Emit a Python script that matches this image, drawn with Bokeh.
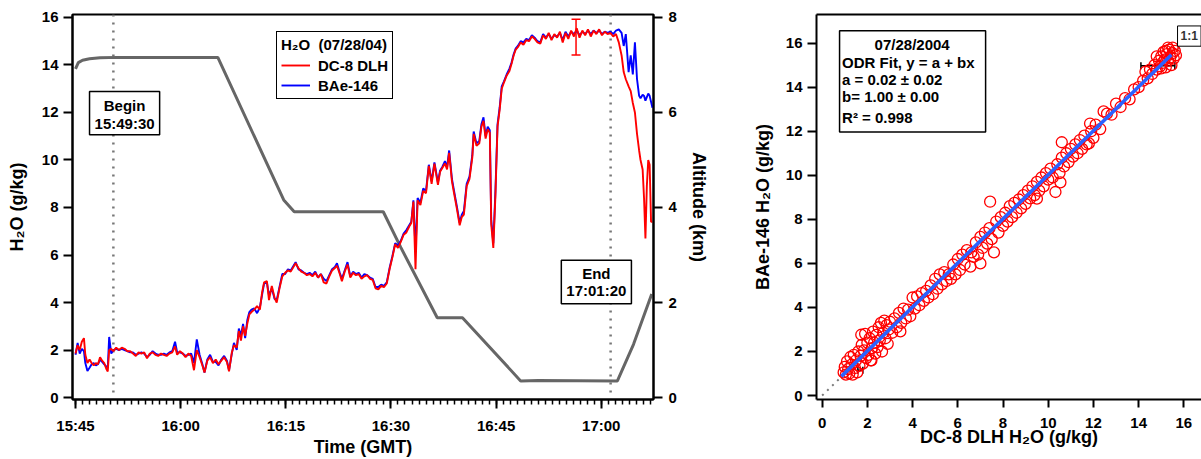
import pandas as pd
from bokeh.plotting import figure
from bokeh.layouts import row
from bokeh.models import (Range1d, LinearAxis, FixedTicker, DatetimeTickFormatter, Span,
                          BoxAnnotation, Label, Legend, LegendItem, Whisker, ColumnDataSource, TeeHead)
from bokeh.embed import file_html
from bokeh.resources import INLINE

FONT = "Liberation Sans"

# ---------------- data ----------------
FLIGHT_DATE = "2004-07-28"
START = "15:45:00"

# minutes after 15:45 GMT
minutes = [0.0, 0.3, 0.6, 0.9, 1.2, 1.4, 1.7, 2.0, 2.3, 2.6,
           2.9, 3.2, 3.5, 3.8, 4.1, 4.4, 4.6, 4.8, 5.1, 5.4,
           5.8, 6.2, 6.6, 7.0, 7.4, 7.8, 8.2, 8.6, 9.0, 9.4,
           9.8, 10.2, 10.6, 11.0, 11.4, 11.8, 12.2, 12.6, 13.0, 13.4,
           13.8, 14.2, 14.5, 14.9, 15.3, 15.7, 16.1, 16.5, 16.9, 17.3,
           17.7, 18.1, 18.4, 18.8, 19.2, 19.6, 20.0, 20.4, 20.8, 21.2,
           21.6, 21.9, 22.3, 22.6, 23.0, 23.3, 23.6, 23.9, 24.2, 24.5,
           24.8, 25.1, 25.5, 25.9, 26.3, 26.6, 26.9, 27.3, 27.6, 28.0,
           28.4, 28.7, 29.1, 29.5, 29.9, 30.3, 30.7, 31.1, 31.4, 31.8,
           32.2, 32.6, 33.0, 33.4, 33.8, 34.2, 34.6, 35.0, 35.4, 35.8,
           36.2, 36.6, 37.0, 37.3, 37.7, 38.0, 38.4, 38.8, 39.2, 39.6,
           40.0, 40.4, 40.8, 41.2, 41.6, 42.0, 42.4, 42.8, 43.2, 43.6,
           44.0, 44.4, 44.8, 45.2, 45.6, 46.0, 46.4, 46.8, 47.2, 47.6,
           47.9, 48.2, 48.5, 48.8, 49.2, 49.6, 50.0, 50.4, 50.8, 51.2,
           51.7, 52.0, 52.3, 52.7, 53.0, 53.3, 53.7, 54.0, 54.4, 54.8,
           55.1, 55.4, 55.8, 56.2, 56.6, 56.8, 57.2, 57.6, 57.9, 58.2,
           58.5, 58.8, 59.1, 59.3, 59.6, 59.9, 60.2, 60.5, 60.8, 61.1,
           61.5, 61.9, 62.2, 62.5, 62.8, 63.1, 63.5, 63.9, 64.3, 64.7,
           65.1, 65.5, 65.9, 66.3, 66.7, 67.1, 67.5, 67.9, 68.3, 68.7,
           69.1, 69.5, 69.9, 70.3, 70.7, 71.1, 71.5, 71.9, 72.3, 72.7,
           73.1, 73.5, 73.9, 74.3, 74.7, 75.1, 75.5, 75.9, 76.3, 76.7,
           77.1, 77.5, 77.9, 78.2, 78.5, 78.9, 79.2, 79.5, 79.8, 80.1,
           80.4, 80.6, 80.9, 81.1, 81.3, 81.5, 81.7, 81.9, 82.1, 82.3]

dc8_h2o = [1.85, 2.20, 2.00, 2.35, 2.50, 1.80, 1.45, 1.60, 1.45, 1.35,
           1.45, 1.40, 1.70, 1.55, 1.45, 1.20, 1.10, 2.00, 2.05, 1.95,
           2.10, 2.00, 2.10, 2.05, 1.95, 1.95, 1.85, 1.75, 1.90, 1.85,
           1.90, 1.65, 1.85, 1.90, 1.80, 1.75, 1.85, 1.80, 1.75, 1.85,
           1.90, 2.15, 1.80, 1.95, 1.85, 1.70, 1.85, 1.75, 1.15, 2.00,
           1.70, 1.35, 1.05, 1.55, 1.70, 1.45, 1.60, 1.40, 1.55, 1.70,
           1.50, 1.10, 1.90, 2.20, 2.10, 2.80, 2.40, 3.00, 2.60, 3.10,
           3.50, 3.60, 3.70, 3.85, 3.70, 4.40, 4.85, 4.90, 4.10, 4.70,
           4.20, 4.00, 4.60, 5.10, 5.25, 5.35, 5.30, 5.50, 5.65, 5.45,
           5.30, 5.25, 5.15, 5.20, 5.10, 5.25, 5.05, 5.20, 4.85, 4.80,
           5.10, 5.35, 5.45, 5.55, 5.20, 4.90, 5.30, 5.60, 5.05, 5.25,
           5.15, 5.20, 5.00, 5.10, 5.15, 5.00, 4.95, 4.60, 4.55, 4.70,
           4.65, 4.80, 5.40, 5.90, 6.45, 6.30, 6.55, 6.85, 6.95, 7.20,
           7.35, 8.25, 5.40, 8.30, 8.10, 8.70, 8.60, 9.75, 9.00, 9.85,
           8.95, 9.50, 9.65, 9.85, 9.60, 10.30, 9.10, 8.60, 7.95, 7.25,
           7.60, 7.70, 8.90, 9.20, 10.10, 11.10, 10.60, 10.70, 11.40, 11.65,
           10.90, 11.30, 11.15, 7.30, 6.30, 8.50, 11.40, 12.10, 13.00, 13.25,
           13.55, 13.75, 14.05, 14.40, 14.65, 14.75, 14.95, 14.85, 15.05, 15.00,
           15.20, 15.10, 14.95, 14.90, 15.25, 15.10, 15.35, 15.05, 15.30, 15.15,
           15.40, 14.95, 15.35, 15.10, 15.45, 15.20, 15.55, 15.15, 15.45, 15.25,
           15.50, 15.20, 15.45, 15.30, 15.50, 15.25, 15.40, 15.30, 15.35, 15.20,
           15.30, 14.95, 14.40, 13.70, 13.40, 13.10, 12.90, 12.40, 12.00, 11.10,
           10.40, 10.00, 9.60, 8.40, 6.70, 8.90, 10.00, 9.80, 7.40, 7.40]

bae_h2o = [1.80, 2.30, 1.85, 2.05, 1.95, 1.45, 1.12, 1.25, 1.40, 1.45,
           1.35, 1.40, 1.60, 1.50, 1.40, 1.30, 1.25, 2.55, 1.85, 2.00,
           2.05, 2.00, 2.05, 2.00, 1.95, 1.90, 1.90, 1.80, 1.85, 1.90,
           1.85, 1.70, 1.80, 1.95, 1.85, 1.80, 1.80, 1.85, 1.80, 1.90,
           1.95, 2.35, 1.90, 1.90, 1.85, 1.75, 1.80, 1.85, 1.45, 2.45,
           1.80, 1.40, 1.05, 1.60, 1.80, 1.50, 1.50, 1.35, 1.60, 1.75,
           1.55, 1.15, 1.85, 2.30, 2.00, 2.90, 2.60, 3.10, 2.50, 3.25,
           3.60, 3.70, 3.75, 3.55, 3.80, 4.30, 4.80, 4.85, 4.30, 4.60,
           4.15, 4.10, 4.65, 5.20, 5.20, 5.40, 5.35, 5.55, 5.70, 5.40,
           5.35, 5.25, 5.20, 5.25, 5.15, 5.30, 5.05, 5.20, 5.00, 4.90,
           5.15, 5.40, 5.50, 5.65, 5.25, 5.00, 5.35, 5.70, 5.10, 5.30,
           5.20, 5.25, 5.05, 5.20, 5.15, 5.05, 5.00, 4.65, 4.65, 4.75,
           4.70, 4.85, 5.45, 5.95, 6.50, 6.40, 6.60, 6.90, 7.05, 7.25,
           7.40, 8.30, 6.20, 8.40, 8.20, 8.80, 8.70, 9.80, 9.10, 9.90,
           9.05, 9.55, 9.70, 9.95, 9.70, 10.40, 9.20, 8.70, 8.05, 7.35,
           7.70, 7.85, 9.00, 9.30, 10.20, 11.20, 10.70, 10.80, 11.50, 11.80,
           11.00, 11.40, 11.25, 7.50, 6.50, 8.70, 11.50, 12.20, 13.10, 13.30,
           13.60, 13.85, 14.10, 14.45, 14.70, 14.80, 15.00, 14.95, 15.10, 15.05,
           15.25, 15.15, 15.00, 14.95, 15.30, 15.15, 15.30, 15.10, 15.25, 15.20,
           15.35, 15.05, 15.40, 15.20, 15.40, 15.30, 15.45, 15.25, 15.40, 15.30,
           15.45, 15.30, 15.45, 15.35, 15.45, 15.30, 15.40, 15.35, 15.40, 15.30,
           15.45, 15.50, 15.35, 14.80, 15.30, 13.70, 14.40, 13.60, 14.95, 13.40,
           12.70, 12.60, 12.75, 12.70, 12.50, 12.65, 12.80, 12.70, 12.45, 12.20]

alt_minutes = [0.0, 0.4, 1.0, 2.0, 3.5, 6.0, 10.0, 15.0, 20.3, 29.7,
               31.2, 43.9, 46.4, 51.6, 55.2, 63.5, 66.0, 77.3, 79.6, 82.2]
alt_km = [6.92, 7.05, 7.10, 7.13, 7.15, 7.16, 7.16, 7.16, 7.16, 4.16,
          3.91, 3.91, 3.16, 1.68, 1.68, 0.35, 0.36, 0.35, 1.12, 2.18]

# scatter of paired values between Begin and End
scatter_dc8 = [0.95, 1.00, 1.05, 1.10, 1.15, 1.20, 1.25, 1.30, 1.35, 1.40,
               1.45, 1.50, 1.55, 1.60, 1.65, 1.70, 1.73, 1.75, 1.80, 1.85,
               1.90, 1.95, 2.00, 2.05, 2.10, 2.15, 2.18, 2.20, 2.25, 2.30,
               2.35, 2.40, 2.45, 2.50, 2.55, 2.60, 2.65, 2.70, 2.75, 2.80,
               2.85, 2.90, 2.95, 3.00, 3.10, 3.20, 3.30, 3.40, 3.46, 3.50,
               3.60, 3.70, 3.80, 3.90, 4.00, 4.10, 4.20, 4.30, 4.40, 4.50,
               4.60, 4.70, 4.80, 4.90, 5.00, 5.10, 5.20, 5.30, 5.40, 5.50,
               5.60, 5.70, 5.80, 5.90, 6.00, 6.10, 6.20, 6.30, 6.40, 6.56,
               6.60, 6.70, 6.80, 6.90, 7.00, 7.00, 7.10, 7.20, 7.30, 7.40,
               7.43, 7.50, 7.60, 7.70, 7.80, 7.90, 8.00, 8.10, 8.20, 8.30,
               8.40, 8.50, 8.60, 8.70, 8.80, 8.90, 9.00, 9.10, 9.20, 9.30,
               9.40, 9.50, 9.50, 9.60, 9.70, 9.80, 9.90, 10.00, 10.10, 10.20,
               10.32, 10.40, 10.50, 10.54, 10.60, 10.60, 10.70, 10.80, 10.90, 11.00,
               11.10, 11.20, 11.30, 11.40, 11.50, 11.60, 11.70, 11.80, 11.85, 11.90,
               12.00, 12.10, 12.30, 12.45, 12.60, 12.80, 13.00, 13.20, 13.40, 13.60,
               13.80, 14.00, 14.20, 14.30, 14.40, 14.50, 14.60, 14.70, 14.80, 14.90,
               14.95, 15.00, 15.05, 15.10, 15.15, 15.20, 15.25, 15.30, 15.35, 15.40,
               15.45, 15.50, 15.55, 15.60, 15.30, 15.50, 15.65, 15.00, 14.80, 15.20]
scatter_bae = [1.05, 1.30, 0.95, 1.55, 1.20, 1.00, 1.75, 1.40, 0.95, 1.85,
               1.25, 1.60, 1.05, 2.00, 1.35, 1.80, 2.76, 2.30, 1.45, 2.05,
               2.80, 1.70, 2.40, 1.85, 2.60, 1.60, 1.60, 2.15, 2.90, 2.40,
               1.90, 2.75, 2.20, 3.10, 2.50, 3.30, 2.00, 2.85, 3.40, 2.60,
               3.20, 2.35, 3.00, 3.35, 2.85, 3.50, 3.10, 3.75, 2.91, 3.30,
               3.95, 3.50, 3.90, 3.60, 4.45, 3.95, 4.50, 4.10, 4.65, 4.30,
               4.75, 4.45, 5.00, 4.60, 5.30, 4.85, 5.50, 5.05, 5.60, 5.20,
               5.50, 5.30, 5.95, 5.50, 6.20, 5.70, 6.40, 5.95, 6.60, 5.85,
               6.50, 6.30, 6.95, 6.40, 6.00, 7.20, 6.70, 7.40, 6.90, 7.60,
               8.80, 7.10, 6.50, 7.90, 7.40, 8.10, 7.70, 8.30, 7.90, 8.60,
               8.10, 8.75, 8.30, 8.90, 8.50, 9.10, 8.70, 9.30, 8.95, 9.50,
               9.10, 8.94, 9.70, 9.30, 9.90, 9.50, 10.10, 9.80, 10.30, 9.90,
               9.24, 10.50, 10.10, 9.68, 11.50, 10.80, 10.40, 11.00, 10.60, 11.20,
               10.85, 11.40, 11.00, 11.60, 11.20, 11.80, 11.40, 11.45, 12.35, 12.00,
               11.70, 12.30, 12.10, 12.90, 12.80, 12.75, 13.25, 13.10, 13.50, 13.45,
               13.90, 14.00, 14.30, 14.70, 14.40, 14.80, 14.60, 15.00, 14.80, 15.20,
               14.95, 15.40, 15.10, 15.60, 15.25, 14.90, 15.50, 15.20, 15.70, 15.35,
               15.00, 15.55, 15.30, 15.65, 15.80, 15.80, 15.45, 14.85, 15.40, 15.65]

assert len(minutes) == len(dc8_h2o) == len(bae_h2o)
assert len(scatter_dc8) == len(scatter_bae)

time_tick_labels = ["15:45", "16:00", "16:15", "16:30", "16:45", "17:00"]
h2o_ticks = [0, 2, 4, 6, 8, 10, 12, 14, 16]
alt_ticks = [0, 2, 4, 6, 8]

begin_marker = "15:50:24"   # where the dotted line sits in the figure
end_marker = "17:01:20"
begin_text = ["Begin", "15:49:30"]
end_text = ["End", "17:01:20"]

calib_time = "16:56:24"
calib_h2o = [14.42, 15.92]

fit_a, fit_b = 0.02, 1.00
fit_x = [0.85, 15.45]
one_to_one = [0.0, 16.5]
fit_text = ["07/28/2004", "ODR Fit, y = a + bx", "a = 0.02 \u00b1 0.02", "b= 1.00 \u00b1 0.00", "R\u00b2 = 0.998"]
err_base = [14.97, 1.15]
err_lower = [14.10, 1.58]
err_upper = [15.60, 1.80]

# ---------------- helpers ----------------
t0 = pd.Timestamp(f"{FLIGHT_DATE} {START}")


def tmin(m):
    return t0 + pd.Timedelta(minutes=m)


def ms(ts):
    return ts.value / 1e6


def at(hms):
    return ms(pd.Timestamp(f"{FLIGHT_DATE} {hms}"))


times = [tmin(m) for m in minutes]
alt_times = [tmin(m) for m in alt_minutes]


def style_axis(ax, tick_out=9, standoff=5, label_standoff=0):
    ax.axis_line_color = "black"
    ax.axis_line_width = 2
    ax.major_tick_line_color = "black"
    ax.major_tick_line_width = 2
    ax.major_tick_in = 0
    ax.major_tick_out = tick_out
    ax.minor_tick_line_color = None
    ax.major_label_text_font = FONT
    ax.major_label_text_font_style = "bold"
    ax.major_label_text_font_size = "15px"
    ax.major_label_text_color = "black"
    ax.major_label_standoff = standoff
    ax.axis_label_text_font = FONT
    ax.axis_label_text_font_style = "bold"
    ax.axis_label_text_font_size = "18px"
    ax.axis_label_text_color = "black"
    ax.axis_label_standoff = label_standoff


def text(p, x, y, s, size="15px", align="center", color="black"):
    p.add_layout(Label(x=x, y=y, text=s, text_align=align, text_baseline="middle",
                       text_font=FONT, text_font_style="bold", text_font_size=size,
                       text_color=color))


def box(p, left, right, bottom, top, width=1.5):
    p.add_layout(BoxAnnotation(left=left, right=right, bottom=bottom, top=top,
                               fill_color="white", fill_alpha=1, line_color="black",
                               line_alpha=1, line_width=width))


# ---------------- left: time series ----------------
p = figure(width=740, height=459, x_axis_type="datetime", output_backend="svg",
           toolbar_location=None,
           x_range=Range1d(ms(tmin(-0.43)), ms(tmin(82.45))),
           y_range=Range1d(-0.083, 16.125),
           min_border_left=72, min_border_right=87, min_border_top=14, min_border_bottom=55)
p.xgrid.grid_line_color = None
p.ygrid.grid_line_color = None
p.outline_line_color = "black"
p.outline_line_width = 2
p.outline_line_alpha = 1

p.extra_y_ranges = {"alt": Range1d(-0.0415, 8.0625)}

major_ms = [at(s + ":00") for s in time_tick_labels]
minor_ms = [ms(tmin(m)) for m in range(0, 83)]
p.xaxis.ticker = FixedTicker(ticks=major_ms, minor_ticks=minor_ms)
p.xaxis.formatter = DatetimeTickFormatter(minsec="%H:%M", minutes="%H:%M", hourmin="%H:%M",
                                          hours="%H:%M", seconds="%H:%M", days="%H:%M")
p.xaxis.axis_label = "Time (GMT)"
style_axis(p.xaxis[0], tick_out=9, standoff=8, label_standoff=0)
p.xaxis.minor_tick_line_color = "black"
p.xaxis.minor_tick_line_width = 1.5
p.xaxis.minor_tick_in = 0
p.xaxis.minor_tick_out = 5

p.yaxis.ticker = FixedTicker(ticks=h2o_ticks)
p.yaxis.axis_label = "H\u2082O (g/kg)"
style_axis(p.yaxis[0], tick_out=9, standoff=5, label_standoff=12)

alt_axis = LinearAxis(y_range_name="alt", ticker=FixedTicker(ticks=alt_ticks), axis_label="Altitude (km)")
style_axis(alt_axis, tick_out=9, standoff=6, label_standoff=9)
p.add_layout(alt_axis, "right")

for mk in (begin_marker, end_marker):
    p.add_layout(Span(location=at(mk), dimension="height", line_color="#777777",
                      line_dash="2 6", line_width=2.5, level="underlay"))

p.line(alt_times, alt_km, y_range_name="alt", line_color="#666666", line_width=3)
r_bae = p.line(times, bae_h2o, line_color="#0000ff", line_width=1.9)
r_dc8 = p.line(times, dc8_h2o, line_color="#ff0000", line_width=1.9)

csrc = ColumnDataSource(dict(base=[at(calib_time)], lower=[calib_h2o[0]], upper=[calib_h2o[1]]))
p.add_layout(Whisker(base="base", lower="lower", upper="upper", source=csrc, dimension="height",
                     line_color="#ff0000", line_width=1.5,
                     upper_head=TeeHead(size=9, line_color="#ff0000", line_width=1.5),
                     lower_head=TeeHead(size=9, line_color="#ff0000", line_width=1.5)))

# Begin / End boxes
box(p, ms(tmin(2.0)), ms(tmin(12.0)), 11.06, 12.88)
text(p, ms(tmin(7.0)), 12.30, begin_text[0])
text(p, ms(tmin(7.0)), 11.55, begin_text[1])
box(p, ms(tmin(69.3)), ms(tmin(79.3)), 3.95, 5.78)
text(p, ms(tmin(74.3)), 5.24, end_text[0])
text(p, ms(tmin(74.3)), 4.52, end_text[1])

legend = Legend(items=[LegendItem(label="DC-8 DLH", renderers=[r_dc8]),
                       LegendItem(label="BAe-146", renderers=[r_bae])],
                title="H\u2082O  (07/28/04)", location=(204, 300))
legend.title_text_font = FONT
legend.title_text_font_style = "bold"
legend.title_text_font_size = "15px"
legend.title_text_color = "black"
legend.label_text_font = FONT
legend.label_text_font_style = "bold"
legend.label_text_font_size = "15px"
legend.label_text_color = "black"
legend.border_line_color = "black"
legend.border_line_alpha = 1
legend.border_line_width = 1.5
legend.background_fill_alpha = 1
legend.padding = 4
legend.margin = 0
legend.spacing = 2
legend.glyph_width = 29
legend.glyph_height = 18
legend.label_height = 18
legend.label_standoff = 8
legend.title_standoff = 3
p.add_layout(legend)

# ---------------- right: scatter ----------------
q = figure(width=461, height=459, output_backend="svg", toolbar_location=None,
           x_range=Range1d(-0.25, 16.78), y_range=Range1d(-0.18, 17.3),
           min_border_left=76, min_border_right=0, min_border_top=8, min_border_bottom=56)
q.xgrid.grid_line_color = None
q.ygrid.grid_line_color = None
q.outline_line_color = None

q.xaxis.ticker = FixedTicker(ticks=h2o_ticks)
q.yaxis.ticker = FixedTicker(ticks=h2o_ticks)
q.xaxis.axis_label = "DC-8 DLH H\u2082O (g/kg)"
q.yaxis.axis_label = "BAe-146 H\u2082O (g/kg)"
style_axis(q.xaxis[0], tick_out=8, standoff=10, label_standoff=-4)
style_axis(q.yaxis[0], tick_out=9, standoff=5, label_standoff=10)
top_axis = LinearAxis(ticker=FixedTicker(ticks=[]), major_label_text_font_size="0px",
                      axis_line_width=2, axis_line_color="black", major_tick_line_color=None,
                      minor_tick_line_color=None)
q.add_layout(top_axis, "above")

q.line(one_to_one, one_to_one, line_color="#777777", line_width=2, line_dash="2 5")
q.scatter(scatter_dc8, scatter_bae, marker="circle", size=11, fill_color=None,
          line_color="#ff0000", line_width=1.3)
q.line(fit_x, [fit_a + fit_b * v for v in fit_x], line_color="#2a62ff", line_width=3.5)

esrc = ColumnDataSource(dict(base=err_base, lower=err_lower, upper=err_upper))
q.add_layout(Whisker(base="base", lower="lower", upper="upper", source=esrc, dimension="width",
                     line_color="black", line_width=1.5,
                     upper_head=TeeHead(size=7, line_color="black", line_width=1.5),
                     lower_head=TeeHead(size=7, line_color="black", line_width=1.5)))

box(q, 0.77, 7.23, 11.97, 16.56)
text(q, 3.98, 15.93, fit_text[0])
for yv, s in zip([15.12, 14.36, 13.57, 12.64], fit_text[1:]):
    text(q, 0.88, yv, s, align="left")

box(q, 15.72, 16.76, 15.86, 16.78, width=1)
text(q, 16.24, 16.32, "1:1", size="12px", color="#333333")

layout = row(p, q, spacing=0)
open("out.html", "w").write(file_html(layout, INLINE))
